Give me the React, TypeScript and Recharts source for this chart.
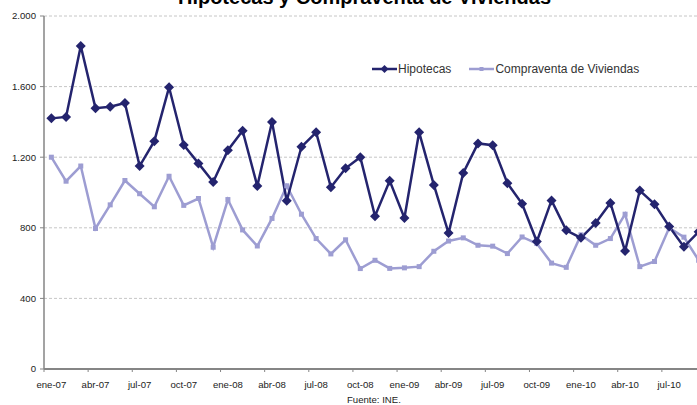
import React from 'react';
import { LineChart, Line, XAxis, YAxis, CartesianGrid, Legend } from 'recharts';

const categories = [
  'ene-07', 'feb-07', 'mar-07', 'abr-07', 'may-07', 'jun-07', 'jul-07', 'ago-07', 'sep-07', 'oct-07', 'nov-07', 'dic-07',
  'ene-08', 'feb-08', 'mar-08', 'abr-08', 'may-08', 'jun-08', 'jul-08', 'ago-08', 'sep-08', 'oct-08', 'nov-08', 'dic-08',
  'ene-09', 'feb-09', 'mar-09', 'abr-09', 'may-09', 'jun-09', 'jul-09', 'ago-09', 'sep-09', 'oct-09', 'nov-09', 'dic-09',
  'ene-10', 'feb-10', 'mar-10', 'abr-10', 'may-10', 'jun-10', 'jul-10', 'ago-10', 'sep-10',
];

const hipotecas = [
  1420, 1428, 1830, 1478, 1486, 1507, 1150, 1291, 1596, 1269, 1165, 1060,
  1240, 1350, 1037, 1399, 953, 1259, 1341, 1030, 1137, 1200, 866, 1066,
  856, 1341, 1043, 770, 1111, 1278, 1268, 1053, 936, 722, 955, 786,
  743, 827, 941, 669, 1011, 934, 807, 692, 777,
];

const compraventa = [
  1200, 1064, 1150, 796, 930, 1068, 993, 919, 1092, 927, 966, 690,
  960, 788, 697, 853, 1038, 877, 739, 652, 732, 569, 616, 570,
  573, 580, 667, 725, 743, 701, 696, 654, 748, 711, 600, 576,
  760, 701, 739, 877, 580, 609, 800, 747, 616,
];

const yTicks = [0, 400, 800, 1200, 1600, 2000];

const data = categories.map((mes, i) => ({
  mes,
  hipotecas: hipotecas[i],
  compraventa: compraventa[i],
}));

const NAVY = '#24246e';
const LAVENDER = '#9d9dd2';
const AXIS = '#858585';
const FONT = '"Liberation Sans", Arial, sans-serif';

const CHART_W = 706;
const CHART_H = 405;
const Y_AXIS_W = 44;
const BAND = (CHART_W - Y_AXIS_W) / categories.length;

// 2000 -> "2.000"
const fmt = (v: number) => String(v).replace(/\B(?=(\d{3})+(?!\d))/g, '.');

const XTick = (props: any) => {
  const { x, y, payload } = props;
  const tx = x - BAND / 2;
  return (
    <g>
      <line x1={tx} x2={tx} y1={y} y2={y + 3} stroke={AXIS} strokeWidth={1} />
      <text x={x} y={y + 19} textAnchor="middle" fontSize={9.6} fill="#222" fontFamily={FONT}>
        {payload.value}
      </text>
    </g>
  );
};

const Diamond = (props: any) => {
  const { cx, cy } = props;
  if (cx == null || cy == null) return <g />;
  const r = 5;
  return <polygon points={`${cx},${cy - r} ${cx + r},${cy} ${cx},${cy + r} ${cx - r},${cy}`} fill={NAVY} />;
};

const Square = (props: any) => {
  const { cx, cy } = props;
  if (cx == null || cy == null) return <g />;
  return <rect x={cx - 2.5} y={cy - 2.5} width={5} height={5} fill={LAVENDER} />;
};

const renderLegend = () => (
  <div
    style={{
      display: 'flex',
      alignItems: 'center',
      height: 16,
      fontFamily: FONT,
      fontSize: 12,
      color: '#333',
      whiteSpace: 'nowrap',
    }}
  >
    <svg width={25} height={10}>
      <line x1={0} x2={25} y1={5} y2={5} stroke={NAVY} strokeWidth={2.5} />
      <polygon points="12.5,1 16.5,5 12.5,9 8.5,5" fill={NAVY} />
    </svg>
    <span style={{ marginLeft: 1 }}>Hipotecas</span>
    <svg width={25} height={10} style={{ marginLeft: 18 }}>
      <line x1={0} x2={25} y1={5} y2={5} stroke={LAVENDER} strokeWidth={2.5} />
      <rect x={10.5} y={3} width={4} height={4} fill={LAVENDER} />
    </svg>
    <span style={{ marginLeft: 1 }}>Compraventa de Viviendas</span>
  </div>
);

export default function App() {
  return (
    <div
      style={{
        position: 'absolute',
        left: 0,
        top: 0,
        width: 697,
        height: 405,
        overflow: 'hidden',
        background: '#fff',
      }}
    >
      <LineChart width={CHART_W} height={CHART_H} data={data} margin={{ top: 16, right: 0, left: 0, bottom: 0 }}>
        <CartesianGrid vertical={false} stroke="#c6c6c6" strokeDasharray="3 2" />
        <XAxis
          dataKey="mes"
          scale="band"
          height={36}
          interval={2}
          tickSize={0}
          tickMargin={0}
          tickLine={false}
          tick={<XTick />}
          axisLine={{ stroke: AXIS, strokeWidth: 2 }}
        />
        <YAxis
          width={Y_AXIS_W}
          domain={[0, 2000]}
          ticks={yTicks}
          interval={0}
          tickFormatter={fmt}
          tickSize={4}
          tickMargin={4}
          tickLine={{ stroke: AXIS }}
          axisLine={{ stroke: AXIS, strokeWidth: 1.5 }}
          tick={{ fontSize: 9.6, fill: '#222', fontFamily: FONT }}
        />
        <Legend
          verticalAlign="middle"
          align="center"
          layout="horizontal"
          content={renderLegend}
          wrapperStyle={{ left: 372, top: 61, width: 320, height: 16 }}
        />
        <Line
          dataKey="compraventa"
          name="Compraventa de Viviendas"
          stroke={LAVENDER}
          strokeWidth={2.5}
          dot={(p: any) => <Square key={`s-${p.index}`} {...p} />}
          activeDot={false}
          isAnimationActive={false}
        />
        <Line
          dataKey="hipotecas"
          name="Hipotecas"
          stroke={NAVY}
          strokeWidth={2.5}
          dot={(p: any) => <Diamond key={`d-${p.index}`} {...p} />}
          activeDot={false}
          isAnimationActive={false}
        />
      </LineChart>
      <svg
        width={697}
        height={405}
        style={{ position: 'absolute', left: 0, top: 0, pointerEvents: 'none' }}
      >
        <text x={364.5} y={4} textAnchor="middle" fontSize={20} fontWeight="bold" fill="#000" fontFamily={FONT}>
          Hipotecas y Compraventa de Viviendas
        </text>
        <text x={347} y={403} fontSize={9.6} fill="#222" fontFamily={FONT}>
          Fuente: INE.
        </text>
      </svg>
    </div>
  );
}
